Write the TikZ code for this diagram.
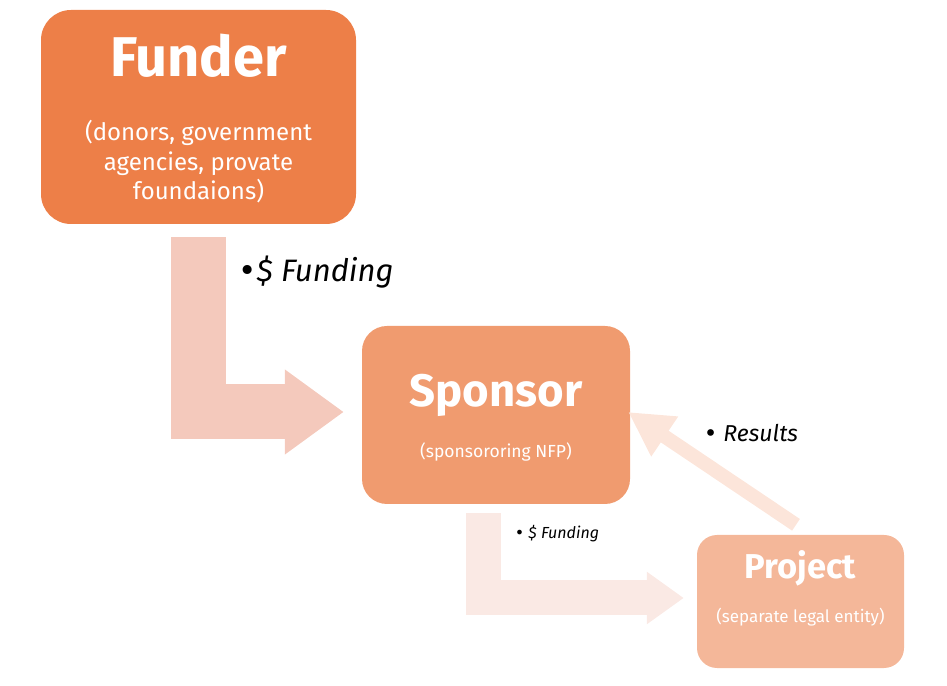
\documentclass[tikz,border=0pt]{standalone}
\usepackage{fontspec}
\setmainfont{Fira Sans}
\newfontfamily\bulletfont{DejaVu Sans}
\usepackage{xcolor}
\usepackage{tikz}
\usetikzlibrary{calc, arrows.meta, positioning}
\definecolor{funderfill}{HTML}{ED7F48}
\definecolor{sponsorfill}{HTML}{F09B6F}
\definecolor{projectfill}{HTML}{F4B799}
\definecolor{flowone}{HTML}{F4C9BC}
\definecolor{flowtwo}{HTML}{FAE9E4}
\definecolor{flowback}{HTML}{FCE5DA}
\tikzset{
    boxnode/.style = {draw=none, rectangle, rounded corners=#1, inner sep = 0em, node distance=0em},
    boxnode/.default = 25pt,
    titlenode/.style = {draw=none, fill=none, rectangle, inner sep = 0em, node distance=0em,
      text=white, font=\bfseries},
    subnode/.style = {draw=none, fill=none, rectangle, inner sep = 0em, node distance=0em,
      text=white, align=center},
    labelnode/.style = {draw=none, fill=none, rectangle, inner sep = 0em, node distance=0em,
      font=\itshape},
    bentflow/.style = {line join=miter, line cap=butt},
    every text node part/.style={align=center}
}
\newcommand{\fsz}[1]{\fontsize{#1}{1.2\dimexpr#1pt\relax}\selectfont}
\newcommand{\blt}{{\upshape\bulletfont •}}

\begin{document}
\begin{tikzpicture}[x=1pt, y=1pt]
    \useasboundingbox (0,0) rectangle (947,685);

    % boxes
    \node [name=funder, boxnode=30pt, fill=funderfill, minimum width=315pt, minimum height=214pt] at (198.5,568) {};
    \node [name=sponsor, boxnode=25pt, fill=sponsorfill, minimum width=268pt, minimum height=178pt] at (496,270) {};
    \node [name=project, boxnode=20pt, fill=projectfill, minimum width=207pt, minimum height=133pt] at (800.5,83.5) {};

    \node [name=fundertitle, titlenode, above of = funder, yshift=61pt, font=\bfseries\fsz{56}] {Funder};
    \node [name=fundersub, subnode, below of = funder, yshift=-45pt, font=\fontsize{24}{29.5}\selectfont]
        {(donors, government\\agencies, provate\\foundaions)};

    \node [name=sponsortitle, titlenode, above of = sponsor, yshift=20pt, font=\bfseries\fsz{45.5}] {Sponsor};
    \node [name=sponsorsub, subnode, below of = sponsor, yshift=-37pt, font=\fsz{17.5}] {(sponsororing NFP)};

    \node [name=projecttitle, titlenode, above of = project, yshift=33pt, font=\bfseries\fsz{34.5}] {Project};
    \node [name=projectsub, subnode, below of = project, yshift=-15.5pt, font=\fsz{17}] {(separate legal entity)};

    % flows
    \coordinate (fundtail) at ($(funder.south)+(0,-13)$);
    \coordinate (fundtip) at ($(sponsor.west)+(-18,3)$);
    \draw [bentflow, draw=flowone, line width=55pt, -{Triangle[length=59pt, width=81pt]}]
        (fundtail) |- (fundtip);

    \coordinate (sponstail) at ($(sponsor.south)+(-13,-9)$);
    \coordinate (sponstip) at ($(project.west)+(-13,3.5)$);
    \draw [bentflow, draw=flowtwo, line width=35pt, -{Triangle[length=37pt, width=50pt]}]
        (sponstail) |- (sponstip);

    \coordinate (restail) at ($(project.north)+(-4.5,10)$);
    \coordinate (restip) at ($(sponsor.east)+(-2,3)$);
    \draw [bentflow, draw=flowback, line width=14pt, -{Triangle[length=44pt, width=45pt]}]
        (restail) -- (restip);

    % labels
    \node [name=fundlabel, labelnode, font=\itshape\fsz{31}] at (316,413) {\blt\$ Funding};
    \node [name=reslabel, labelnode, font=\itshape\fsz{23}] at (751,252) {\blt\ Results};
    \node [name=sponslabel, labelnode, font=\itshape\fsz{16}] at (557,151) {\blt\ \$ Funding};
\end{tikzpicture}
\end{document}
